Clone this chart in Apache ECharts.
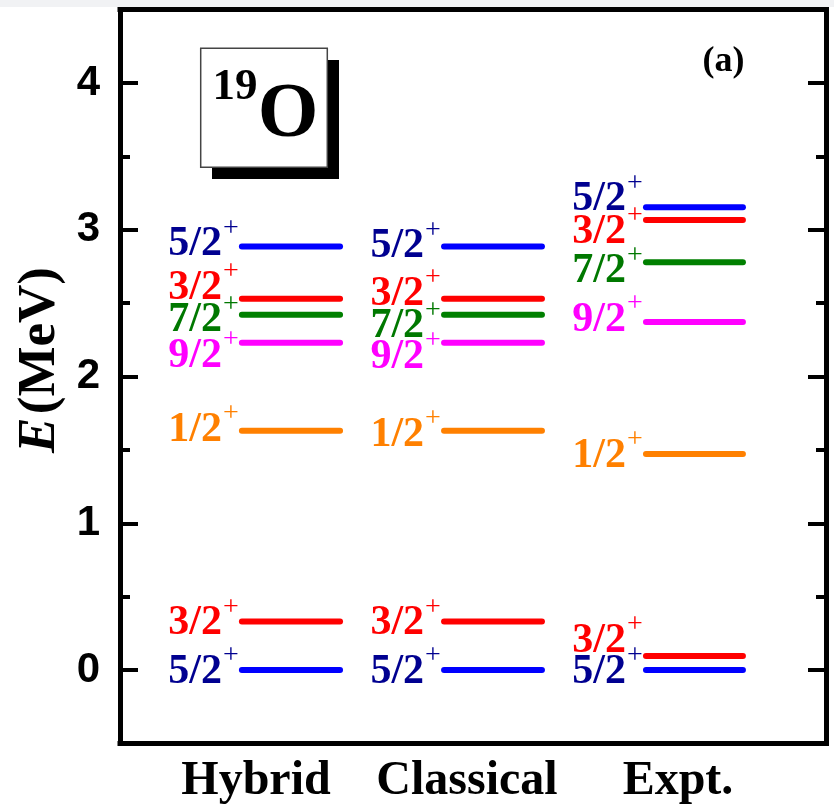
<!DOCTYPE html>
<html>
<head>
<meta charset="utf-8">
<script src="https://cdn.jsdelivr.net/npm/echarts@6/dist/echarts.min.js"></script>
<style>
html,body{margin:0;padding:0;background:#fff;}
#chart{width:834px;height:810px;}
</style>
</head>
<body>
<div id="chart"></div>
<script>
// ---- data ----
const categories = ['Hybrid', 'Classical', 'Expt.'];
const hybridSpins    = ['5/2', '3/2', '1/2', '9/2', '7/2', '3/2', '5/2'];
const hybridE        = [0, 0.33, 1.63, 2.23, 2.42, 2.53, 2.885];
const classicalSpins = ['5/2', '3/2', '1/2', '9/2', '7/2', '3/2', '5/2'];
const classicalE     = [0, 0.33, 1.63, 2.23, 2.42, 2.53, 2.885];
const exptSpins      = ['5/2', '3/2', '1/2', '9/2', '7/2', '3/2', '5/2'];
const exptE          = [0, 0.096, 1.472, 2.371, 2.779, 3.067, 3.153];
const tickValues = [0, 1, 2, 3, 4];
const tickLabels = ['0', '1', '2', '3', '4'];
const minorTickValues = [0.5, 1.5, 2.5, 3.5];
const nucleusMass = '19';
const nucleusSymbol = 'O';
const panelTag = '(a)';

// ---- layout / style (not data) ----
const columnSpins = [hybridSpins, classicalSpins, exptSpins];
const columnE = [hybridE, classicalE, exptE];
const lineSpan = [[0.518, 0.935], [1.377, 1.793], [2.235, 2.647]];
const labelShift = [
  [2, 2, -1, 13, 5.5, -11, -2],
  [2, 2, 4, 14, 11.5, -5, 0],
  [2, -15, 2, -2, 9, 12, -8]
];
const lineColor = {'5/2':'#0000ff','3/2':'#ff0000','7/2':'#008000','9/2':'#ff00ff','1/2':'#ff8000'};
const labelColor = {'5/2':'#000090','3/2':'#ff0000','7/2':'#007800','9/2':'#ff00ff','1/2':'#ff8000'};
const SERIF = '"Liberation Serif","Times New Roman",serif';
const SANS = '"Liberation Sans",Arial,sans-serif';

const levelData = [];
columnE.forEach((arr, c) => arr.forEach((e, k) => levelData.push([c, e, k])));

const chart = echarts.init(document.getElementById('chart'), null, {renderer: 'canvas'});

const frameLine = {show: true, onZero: false, lineStyle: {color: '#000', width: 5, cap: 'square'}};
function yAx(position, values, len, withLine, withLabels) {
  return {
    type: 'value', gridIndex: 0, position: position, min: -0.5, max: 4.5,
    axisLine: withLine ? frameLine : {show: false, onZero: false},
    axisTick: {show: true, inside: true, length: len, customValues: values,
               lineStyle: {color: '#000', width: 4}},
    axisLabel: withLabels ? {
      show: true, customValues: values, margin: 20,
      formatter: v => tickLabels[tickValues.indexOf(v)],
      fontFamily: SANS, fontWeight: 'bold', fontSize: 42, color: '#000'
    } : {show: false},
    splitLine: {show: false}
  };
}

const option = {
  backgroundColor: '#fff',
  animation: false,
  grid: [
    {left: 120, right: 8, top: 9.6, bottom: 66.6, containLabel: false},
    {left: 150.5, right: 50.5, top: 9.6, bottom: 66.6, containLabel: false}
  ],
  xAxis: [
    {type: 'value', gridIndex: 0, position: 'bottom', min: 0, max: 3,
     axisLine: frameLine, axisTick: {show: false}, axisLabel: {show: false}, splitLine: {show: false}},
    {type: 'value', gridIndex: 0, position: 'top', min: 0, max: 3,
     axisLine: frameLine, axisTick: {show: false}, axisLabel: {show: false}, splitLine: {show: false}},
    {type: 'category', gridIndex: 1, position: 'bottom', data: categories,
     axisLine: {show: false, onZero: false}, axisTick: {show: false}, splitLine: {show: false},
     axisLabel: {show: true, interval: 0, hideOverlap: false, margin: 14, fontFamily: SERIF, fontWeight: 'bold', fontSize: 48, color: '#000'}}
  ],
  yAxis: [
    yAx('left', tickValues, 18, true, true),
    yAx('left', minorTickValues, 10, false, false),
    yAx('right', tickValues, 18, true, false),
    yAx('right', minorTickValues, 10, false, false),
    {type: 'value', gridIndex: 1, show: false, min: -0.5, max: 4.5}
  ],
  graphic: [
    {type: 'rect', left: 0, top: 0, shape: {width: 834, height: 7}, style: {fill: '#f1f2f4'}, z: 0},
    {type: 'rect', x: 212, y: 60, shape: {width: 127, height: 119}, style: {fill: '#000'}, z: 10},
    {type: 'rect', x: 200.7, y: 48.3, shape: {width: 126.6, height: 119}, style: {fill: '#fff', stroke: '#444', lineWidth: 1.5}, z: 11},
    {type: 'text', x: 235, y: 87, z: 12,
     style: {text: nucleusMass, align: 'center', verticalAlign: 'middle', font: 'bold 45px ' + SERIF, fill: '#000'}},
    {type: 'text', x: 288, y: 116, z: 12,
     style: {text: nucleusSymbol, align: 'center', verticalAlign: 'middle', font: 'bold 78px ' + SERIF, fill: '#000'}},
    {type: 'text', x: 723.5, y: 62, z: 12,
     style: {text: panelTag, align: 'center', verticalAlign: 'middle', font: 'bold 36px ' + SERIF, fill: '#000'}},
    {type: 'text', x: 40, y: 360, rotation: Math.PI / 2, z: 12,
     style: {text: '{i|E} {n|(MeV)}', align: 'center', verticalAlign: 'middle',
       rich: {
         i: {fontFamily: SERIF, fontStyle: 'italic', fontWeight: 'bold', fontSize: 53, fill: '#000'},
         n: {fontFamily: SERIF, fontWeight: 'bold', fontSize: 53, fill: '#000'}
       }}}
  ],
  series: [{
    type: 'custom',
    xAxisIndex: 0, yAxisIndex: 0,
    data: levelData,
    renderItem: function (params, api) {
      const c = api.value(0), e = api.value(1), k = api.value(2);
      const p0 = api.coord([lineSpan[c][0], e]);
      const p1 = api.coord([lineSpan[c][1], e]);
      const spin = columnSpins[c][k];
      const dy = labelShift[c][k];
      return {
        type: 'group',
        children: [
          {type: 'line', shape: {x1: p0[0], y1: p0[1], x2: p1[0], y2: p1[1]},
           style: {stroke: lineColor[spin], lineWidth: 6, lineCap: 'round'}},
          {type: 'text', style: {text: spin, x: p0[0] - 20, y: p0[1] + dy, align: 'right', verticalAlign: 'middle',
            font: 'bold 42px ' + SERIF, fill: labelColor[spin]}},
          {type: 'text', style: {text: '+', x: p0[0] - 19, y: p0[1] + dy - 16, align: 'left', verticalAlign: 'middle',
            font: '28px ' + SERIF, fill: labelColor[spin]}}
        ]
      };
    }
  }]
};
chart.setOption(option);
</script>
</body>
</html>
